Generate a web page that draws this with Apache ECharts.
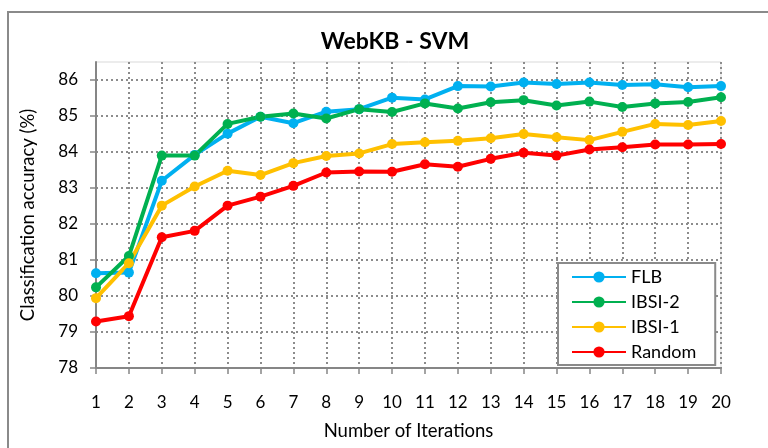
<!DOCTYPE html>
<html>
<head>
<meta charset="utf-8">
<script src="https://cdn.jsdelivr.net/npm/echarts@6/dist/echarts.min.js"></script>
<style>html,body{margin:0;padding:0;background:#fff;}#c{width:768px;height:448px;}</style>
</head>
<body>
<div id="c"></div>
<script>
const categories = ['1','2','3','4','5','6','7','8','9','10','11','12','13','14','15','16','17','18','19','20'];
const yTicks = [78,79,80,81,82,83,84,85,86];
const flb    = [80.63,80.65,83.20,83.92,84.51,84.98,84.80,85.12,85.19,85.51,85.46,85.83,85.82,85.93,85.89,85.93,85.86,85.88,85.80,85.83];
const ibsi2  = [80.24,81.11,83.90,83.90,84.78,84.98,85.07,84.93,85.19,85.11,85.35,85.21,85.38,85.44,85.29,85.40,85.25,85.35,85.39,85.52];
const ibsi1  = [79.94,80.91,82.51,83.04,83.48,83.36,83.69,83.89,83.96,84.22,84.27,84.31,84.38,84.50,84.41,84.33,84.56,84.78,84.75,84.86];
const random = [79.29,79.44,81.63,81.81,82.51,82.76,83.06,83.43,83.46,83.45,83.66,83.59,83.81,83.98,83.90,84.07,84.13,84.21,84.21,84.22];

const font = 'Lato, "Open Sans", sans-serif';
const chart = echarts.init(document.getElementById('c'), null, {renderer:'canvas'});
function mk(name, data, color){
  return {name, type:'line', data, symbol:'circle', symbolSize:10,
    lineStyle:{width:4, color}, itemStyle:{color}};
}
chart.setOption({
  animation:false,
  backgroundColor:'#fff',
  graphic:[{type:'rect', shape:{x:8, y:12, width:800, height:480},
    style:{fill:null, stroke:'#8a8a8a', lineWidth:2}, silent:true, z:-1}],
  title:{text:'WebKB - SVM', left:390, top:25, textAlign:'center',
    textStyle:{fontFamily:font, fontSize:23, fontWeight:'bold', color:'#000'}},
  grid:{left:96, right:47, top:62, bottom:80, show:true, borderColor:'#d9d9d9', borderWidth:1},
  legend:{orient:'vertical', left:558, top:263, padding:[4,19,3,13],
    backgroundColor:'#fff', borderColor:'#8a8a8a', borderWidth:2, borderRadius:0,
    itemWidth:54, itemHeight:14, itemGap:5,
    textStyle:{fontFamily:font, fontSize:18, lineHeight:20, color:'#000'},
    data:['FLB','IBSI-2','IBSI-1','Random']},
  xAxis:{type:'category', data:categories, boundaryGap:false,
    name:'Number of Iterations', nameLocation:'middle', nameGap:54,
    nameTextStyle:{fontFamily:font, fontSize:18.5, color:'#000'},
    axisLine:{lineStyle:{color:'#868686', width:2}},
    axisTick:{show:true, length:6, alignWithLabel:true, lineStyle:{color:'#868686', width:1.5}},
    axisLabel:{fontFamily:font, fontSize:17, color:'#000', margin:26, interval:0},
    splitLine:{show:true, lineStyle:{color:'#8c8c8c', width:2, type:[2,3]}}},
  yAxis:{type:'value', min:78, max:86.5,
    name:'Classification accuracy (%)', nameLocation:'middle', nameGap:58,
    nameTextStyle:{fontFamily:font, fontSize:18.5, color:'#000'},
    axisLine:{show:true, lineStyle:{color:'#868686', width:2}},
    axisTick:{show:true, length:6, customValues:yTicks, lineStyle:{color:'#868686', width:1.5}},
    axisLabel:{fontFamily:font, fontSize:17, color:'#000', margin:18, customValues:yTicks},
    splitLine:{show:true, lineStyle:{color:'#8c8c8c', width:2, type:[2,3]}}},
  series:[mk('FLB', flb, '#00B0F0'), mk('IBSI-2', ibsi2, '#00B050'), mk('IBSI-1', ibsi1, '#FFC000'), mk('Random', random, '#FF0000')]
});
</script>
</body>
</html>
